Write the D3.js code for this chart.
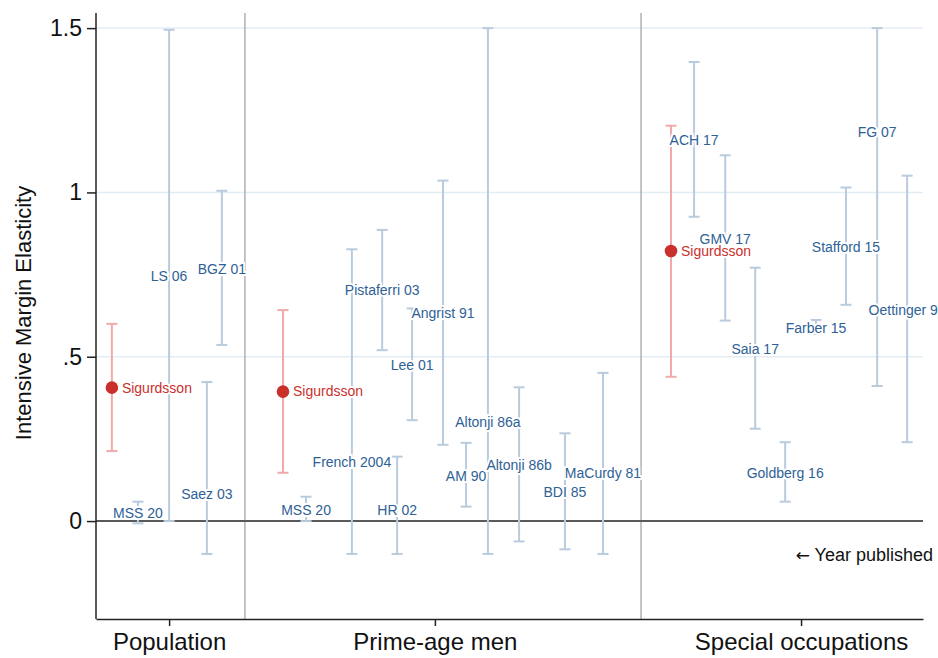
<!DOCTYPE html>
<html>
<head>
<meta charset="utf-8">
<script src="https://cdn.jsdelivr.net/npm/d3@7"></script>
<style>
  body { margin: 0; background: #fff; }
  svg { display: block; font-family: "Liberation Sans", Arial, Helvetica, sans-serif; }
</style>
</head>
<body>
<div id="holder"></div>
<script>
// groups along the x axis
const groups = ["Population", "Prime-age men", "Special occupations"];
const groupTickX = [2.44, 11.31, 23.53];
const dividerX = [4.97, 18.19];

// other studies (blue)
const studyLabels = ["MSS 20", "LS 06", "Saez 03", "BGZ 01",
  "MSS 20", "French 2004", "Pistaferri 03", "HR 02", "Lee 01", "Angrist 91", "AM 90",
  "Altonji 86a", "Altonji 86b", "BDI 85", "MaCurdy 81",
  "ACH 17", "GMV 17", "Saia 17", "Goldberg 16", "Farber 15", "Stafford 15", "FG 07", "Oettinger 99"];
const studyX = [1.40, 2.44, 3.70, 4.20,
  7.01, 8.54, 9.55, 10.05, 10.55, 11.58, 12.35, 13.08, 14.12, 15.65, 16.92,
  19.96, 21.0, 22.0, 23.0, 24.03, 25.03, 26.07, 27.07];
const studyEst = [0.023, 0.746, 0.082, 0.768,
  0.033, 0.178, 0.703, 0.033, 0.475, 0.632, 0.137, 0.302, 0.17, 0.088, 0.145,
  1.16, 0.858, 0.523, 0.145, 0.588, 0.835, 1.185, 0.642];
const studyLo = [-0.007, 0, -0.1, 0.536,
  0, -0.1, 0.52, -0.1, 0.307, 0.232, 0.044, -0.1, -0.062, -0.086, -0.1,
  0.926, 0.61, 0.281, 0.059, 0.569, 0.658, 0.411, 0.24];
const studyHi = [0.059, 1.495, 0.423, 1.005,
  0.074, 0.827, 0.886, 0.196, 0.647, 1.036, 0.238, 1.5, 0.407, 0.267, 0.451,
  1.397, 1.113, 0.771, 0.24, 0.612, 1.015, 1.5, 1.051];

// own estimates (red)
const ownLabel = "Sigurdsson";
const ownX = [0.53, 6.24, 19.19];
const ownEst = [0.406, 0.394, 0.822];
const ownLo = [0.213, 0.147, 0.439];
const ownHi = [0.60, 0.642, 1.203];

const yTicks = [0, 0.5, 1, 1.5];
const yTickLabels = ["0", ".5", "1", "1.5"];

const W = 938, H = 658;
const pLeft = 96, pRight = 923, pTop = 13, pBottom = 619;

const x = d3.scaleLinear().domain([0, 27.6]).range([pLeft, pRight]);
const y = d3.scaleLinear().domain([-0.298, 1.546]).range([pBottom, pTop]);

const svg = d3.select('#holder').append('svg').attr('width', W).attr('height', H);

// gridlines
svg.append('g').selectAll('line').data(yTicks.filter(d => d > 0)).join('line')
  .attr('x1', pLeft).attr('x2', pRight)
  .attr('y1', d => y(d)).attr('y2', d => y(d))
  .style('stroke', '#e4edf3').style('stroke-width', 1.5);

// group dividers
svg.append('g').selectAll('line').data(dividerX).join('line')
  .attr('x1', d => x(d)).attr('x2', d => x(d))
  .attr('y1', pTop).attr('y2', pBottom)
  .style('stroke', '#a3a3a3').style('stroke-width', 1.3);

// zero line
svg.append('line')
  .attr('x1', pLeft).attr('x2', pRight).attr('y1', y(0)).attr('y2', y(0))
  .style('stroke', '#5a5a5a').style('stroke-width', 2);

const study = studyLabels.map((d, i) => ({label: d, x: studyX[i], est: studyEst[i], lo: studyLo[i], hi: studyHi[i]}));
const own = ownX.map((d, i) => ({x: d, est: ownEst[i], lo: ownLo[i], hi: ownHi[i]}));

function bars(data, color) {
  const g = svg.append('g').style('stroke', color).style('stroke-width', 2).style('fill', 'none');
  g.selectAll('.v').data(data).join('line').attr('class', 'v')
    .attr('x1', d => x(d.x)).attr('x2', d => x(d.x))
    .attr('y1', d => y(d.lo)).attr('y2', d => y(d.hi));
  g.selectAll('.lo').data(data).join('line').attr('class', 'lo')
    .attr('x1', d => x(d.x) - 5.5).attr('x2', d => x(d.x) + 5.5)
    .attr('y1', d => y(d.lo)).attr('y2', d => y(d.lo));
  g.selectAll('.hi').data(data).join('line').attr('class', 'hi')
    .attr('x1', d => x(d.x) - 5.5).attr('x2', d => x(d.x) + 5.5)
    .attr('y1', d => y(d.hi)).attr('y2', d => y(d.hi));
}
bars(study, '#b9cbdc');
bars(own, '#f0aaac');

// study labels with white halo
svg.append('g').selectAll('text').data(study).join('text')
  .attr('x', d => x(d.x)).attr('y', d => y(d.est)).attr('dy', '0.35em')
  .attr('text-anchor', 'middle')
  .style('font-size', '14px').style('fill', '#2e6196')
  .style('stroke', '#fff').style('stroke-width', 4).style('paint-order', 'stroke')
  .text(d => d.label);

// own dots + labels
svg.append('g').selectAll('circle').data(own).join('circle')
  .attr('cx', d => x(d.x)).attr('cy', d => y(d.est)).attr('r', 6.3)
  .style('fill', '#c9302c');
svg.append('g').selectAll('text').data(own).join('text')
  .attr('x', d => x(d.x) + 10).attr('y', d => y(d.est)).attr('dy', '0.35em')
  .style('font-size', '14px').style('fill', '#c9302c')
  .style('stroke', '#fff').style('stroke-width', 4).style('paint-order', 'stroke')
  .text(ownLabel);

// axes
const yAxis = svg.append('g').attr('transform', 'translate(' + pLeft + ',0)')
  .call(d3.axisLeft(y).tickValues(yTicks).tickFormat((d, i) => yTickLabels[i])
    .tickSize(9).tickSizeOuter(0).tickPadding(5));
yAxis.selectAll('text').style('font-size', '23px').style('fill', '#111').style('font-family', 'inherit');
yAxis.selectAll('line, path').style('stroke', '#222').style('stroke-width', 1.5);
yAxis.select('.domain').attr('d', 'M0,' + pTop + 'V' + pBottom);

const xAxis = svg.append('g').attr('transform', 'translate(0,' + pBottom + ')')
  .call(d3.axisBottom(x).tickValues(groupTickX).tickFormat((d, i) => groups[i])
    .tickSize(7).tickSizeOuter(0).tickPadding(7));
xAxis.selectAll('text').style('font-size', '24px').style('fill', '#111').style('font-family', 'inherit');
xAxis.selectAll('line, path').style('stroke', '#222').style('stroke-width', 1.5);

// axis title
svg.append('text')
  .attr('transform', 'translate(31,313) rotate(-90)')
  .attr('text-anchor', 'middle')
  .style('font-size', '22px').style('fill', '#111')
  .text('Intensive Margin Elasticity');

// note
const note = svg.append('text')
  .attr('x', 933).attr('y', 561).attr('text-anchor', 'end')
  .style('font-size', '18px').style('fill', '#111');
note.append('tspan').style('font-family', '"DejaVu Sans", sans-serif').style('font-size', '17px').text('\u2190');
note.append('tspan').text(' Year published');
</script>
</body>
</html>
